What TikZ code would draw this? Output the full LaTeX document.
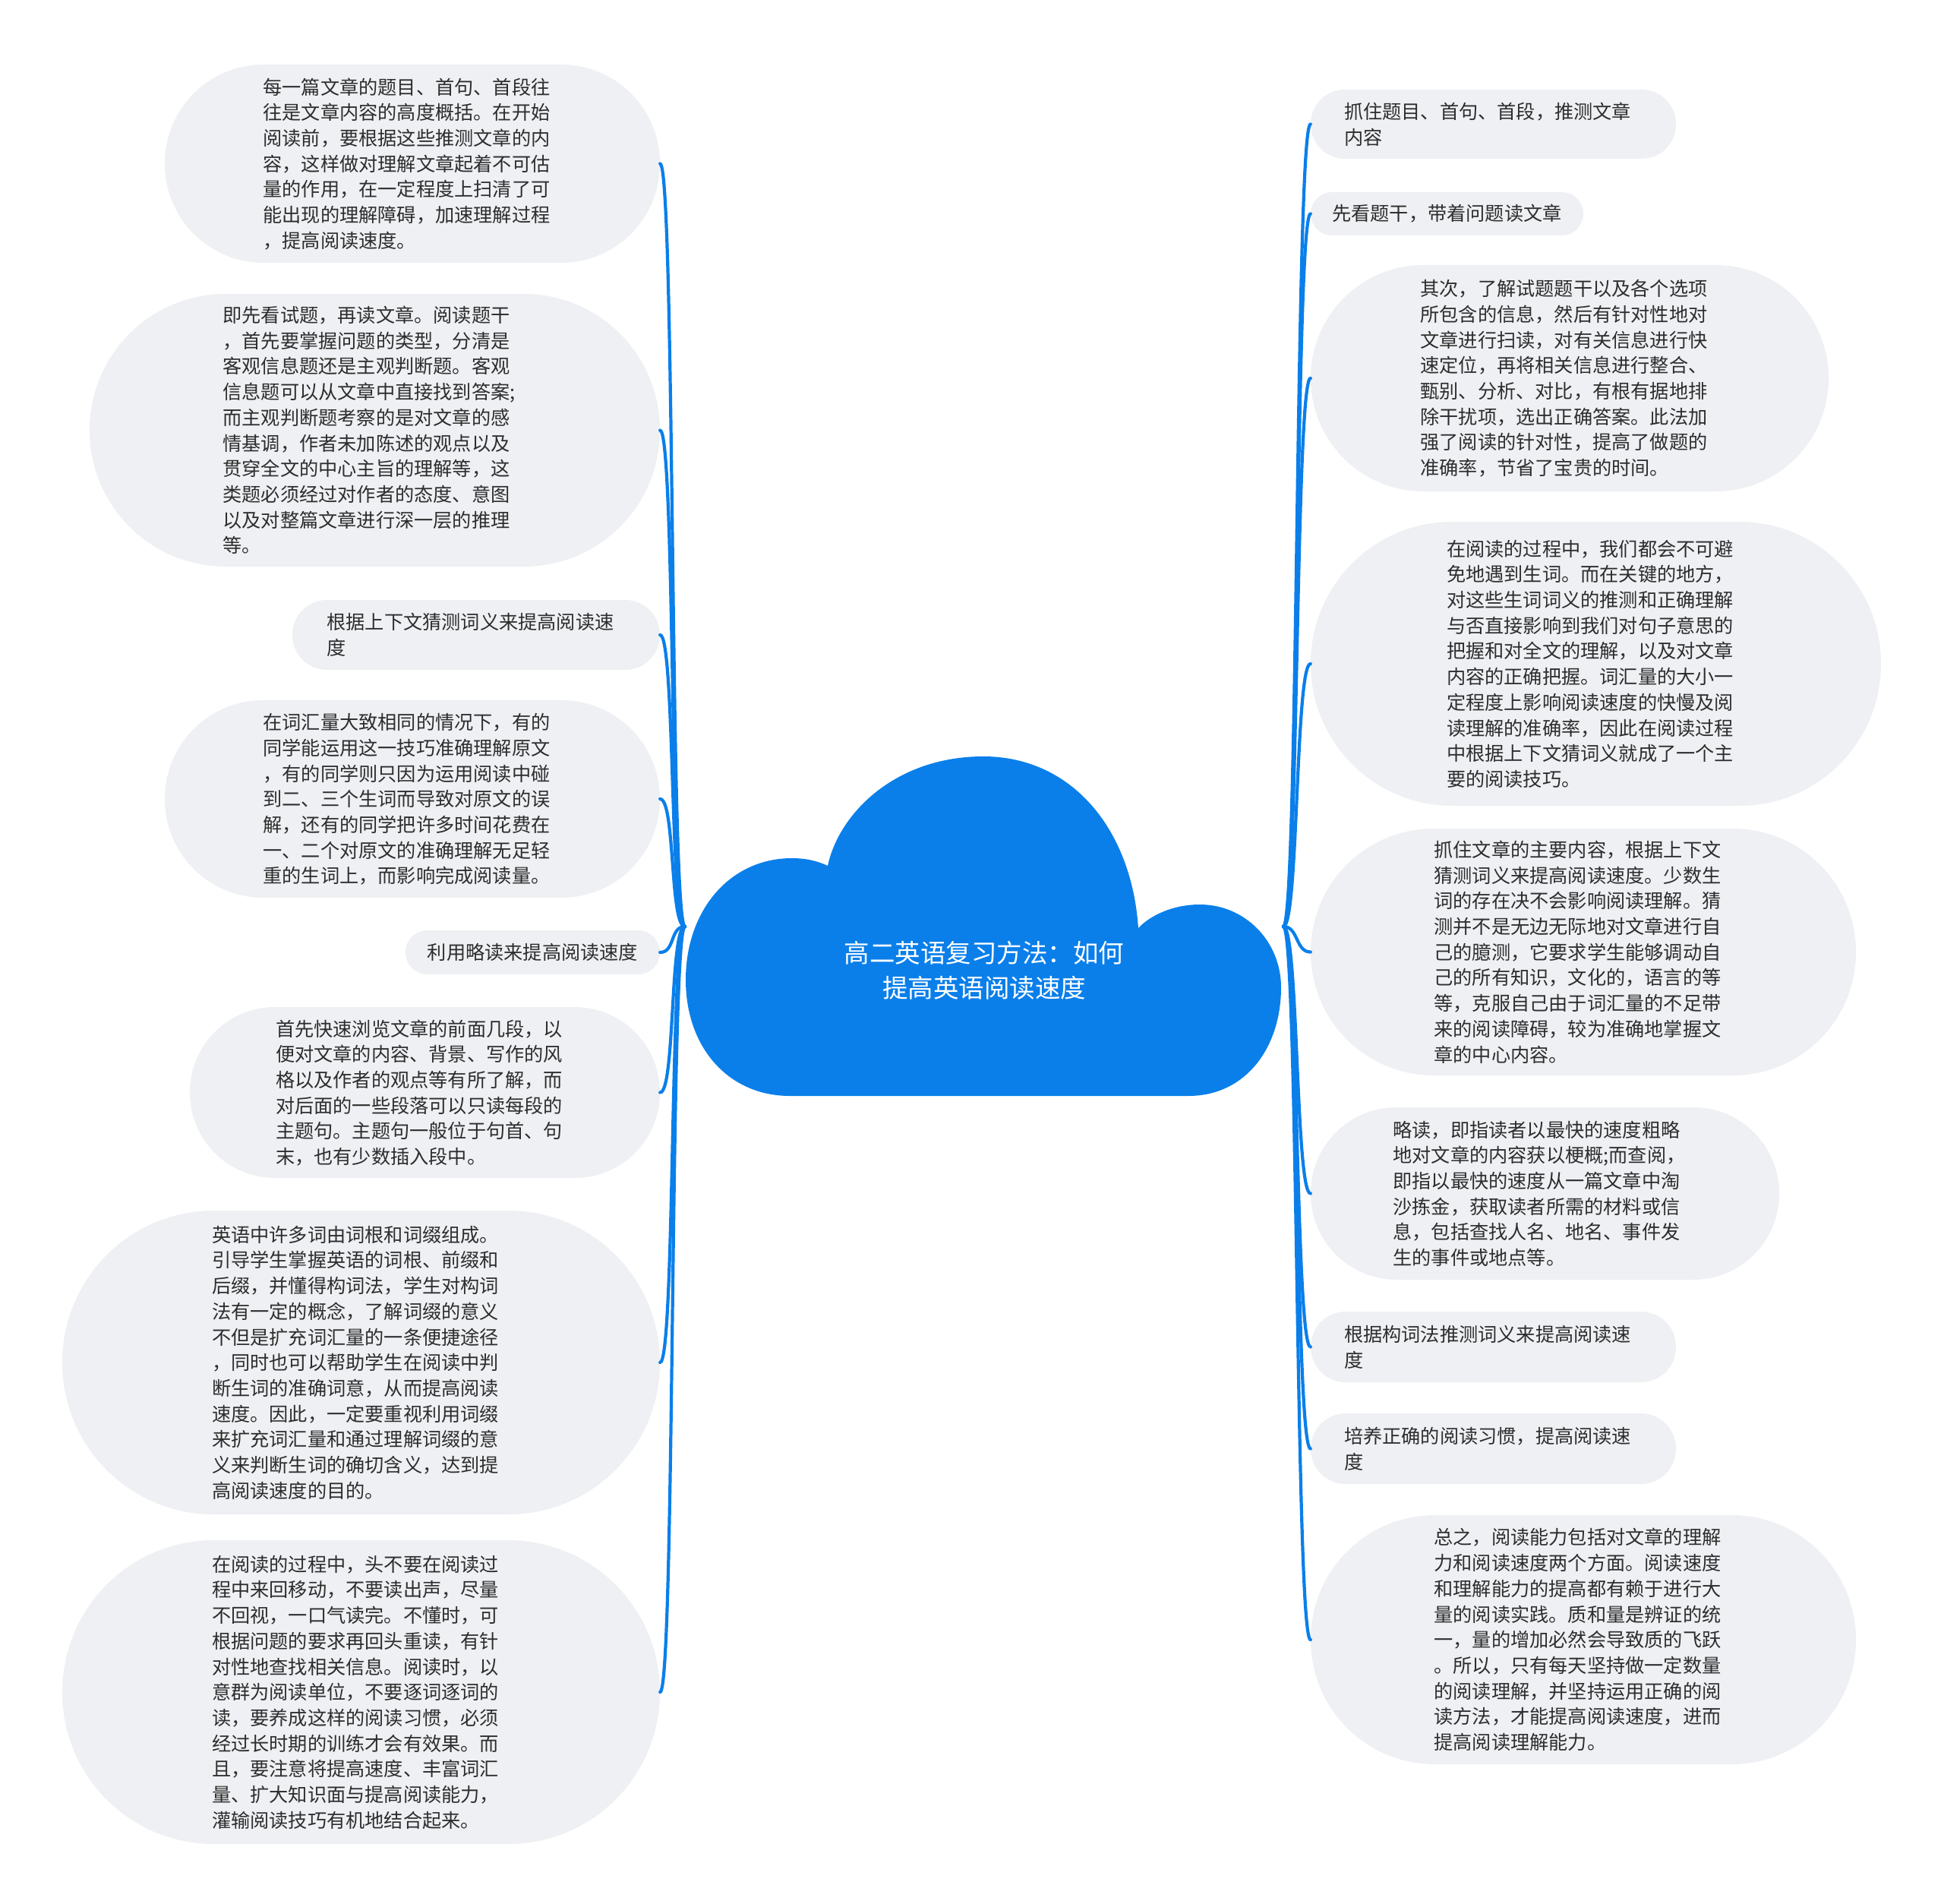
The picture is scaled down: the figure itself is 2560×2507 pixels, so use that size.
\documentclass[tikz,border=0pt]{standalone}
\usepackage{fontspec}
\newfontfamily\cjk{Noto Sans CJK SC}
\definecolor{cloudblue}{RGB}{10,127,234}
\definecolor{bubfill}{RGB}{238,240,243}
\definecolor{txt}{RGB}{45,45,45}
\newcommand\tb[1]{\begin{tabular}{@{}l@{\hspace{15pt}}}\rule{0pt}{29.6pt}#1\end{tabular}}
\tikzset{
  bub/.style={fill=bubfill, draw=none, text=txt, inner sep=0pt,
    font=\cjk\fontsize{25.2}{33.7}\selectfont},
  conn/.style={draw=cloudblue, line width=4.2pt, line cap=round},
  titletext/.style={align=center, text=white, inner sep=0pt,
    font=\cjk\fontsize{33.5}{45.7}\selectfont}
}
\begin{document}
\begin{tikzpicture}[x=1pt,y=-1pt]
\useasboundingbox (0,0) rectangle (2560,2507);

\coordinate (rootL) at (902,1220);
\coordinate (rootR) at (1690,1220);

% left nodes
\node[bub, minimum width=652pt, minimum height=261pt, rounded corners=130pt] (L1) at (543,215.5)
{\tb{每一篇文章的题目、首句、首段往\\往是文章内容的高度概括。在开始\\阅读前，要根据这些推测文章的内\\容，这样做对理解文章起着不可估\\量的作用，在一定程度上扫清了可\\能出现的理解障碍，加速理解过程\\，提高阅读速度。}};
\node[bub, minimum width=751pt, minimum height=359pt, rounded corners=179pt] (L2) at (493.5,566.5)
{\tb{即先看试题，再读文章。阅读题干\\，首先要掌握问题的类型，分清是\\客观信息题还是主观判断题。客观\\信息题可以从文章中直接找到答案;\\而主观判断题考察的是对文章的感\\情基调，作者未加陈述的观点以及\\贯穿全文的中心主旨的理解等，这\\类题必须经过对作者的态度、意图\\以及对整篇文章进行深一层的推理\\等。}};
\node[bub, minimum width=484pt, minimum height=92pt, rounded corners=45.5pt] (L3) at (627,836)
{\tb{根据上下文猜测词义来提高阅读速\\度}};
\node[bub, minimum width=652pt, minimum height=260pt, rounded corners=129.5pt] (L4) at (543,1052)
{\tb{在词汇量大致相同的情况下，有的\\同学能运用这一技巧准确理解原文\\，有的同学则只因为运用阅读中碰\\到二、三个生词而导致对原文的误\\解，还有的同学把许多时间花费在\\一、二个对原文的准确理解无足轻\\重的生词上，而影响完成阅读量。}};
\node[bub, minimum width=335pt, minimum height=58pt, rounded corners=28.5pt] (L5) at (701.5,1254)
{利用略读来提高阅读速度};
\node[bub, minimum width=619pt, minimum height=225pt, rounded corners=112pt] (L6) at (559.5,1438.5)
{\tb{首先快速浏览文章的前面几段，以\\便对文章的内容、背景、写作的风\\格以及作者的观点等有所了解，而\\对后面的一些段落可以只读每段的\\主题句。主题句一般位于句首、句\\末，也有少数插入段中。}};
\node[bub, minimum width=787pt, minimum height=400pt, rounded corners=199.5pt] (L7) at (475.5,1794)
{\tb{英语中许多词由词根和词缀组成。\\引导学生掌握英语的词根、前缀和\\后缀，并懂得构词法，学生对构词\\法有一定的概念，了解词缀的意义\\不但是扩充词汇量的一条便捷途径\\，同时也可以帮助学生在阅读中判\\断生词的准确词意，从而提高阅读\\速度。因此，一定要重视利用词缀\\来扩充词汇量和通过理解词缀的意\\义来判断生词的确切含义，达到提\\高阅读速度的目的。}};
\node[bub, minimum width=787pt, minimum height=400pt, rounded corners=199.5pt] (L8) at (475.5,2228)
{\tb{在阅读的过程中，头不要在阅读过\\程中来回移动，不要读出声，尽量\\不回视，一口气读完。不懂时，可\\根据问题的要求再回头重读，有针\\对性地查找相关信息。阅读时，以\\意群为阅读单位，不要逐词逐词的\\读，要养成这样的阅读习惯，必须\\经过长时期的训练才会有效果。而\\且，要注意将提高速度、丰富词汇\\量、扩大知识面与提高阅读能力，\\灌输阅读技巧有机地结合起来。}};

% right nodes
\node[bub, minimum width=481pt, minimum height=91pt, rounded corners=45pt] (R1) at (1966.5,163.5)
{\tb{抓住题目、首句、首段，推测文章\\内容}};
\node[bub, minimum width=359pt, minimum height=57pt, rounded corners=28pt] (R2) at (1905.5,281.5)
{先看题干，带着问题读文章};
\node[bub, minimum width=682pt, minimum height=298pt, rounded corners=148.5pt] (R3) at (2067,498)
{\tb{其次，了解试题题干以及各个选项\\所包含的信息，然后有针对性地对\\文章进行扫读，对有关信息进行快\\速定位，再将相关信息进行整合、\\甄别、分析、对比，有根有据地排\\除干扰项，选出正确答案。此法加\\强了阅读的针对性，提高了做题的\\准确率，节省了宝贵的时间。}};
\node[bub, minimum width=751pt, minimum height=374pt, rounded corners=186.5pt] (R4) at (2101.5,874)
{\tb{在阅读的过程中，我们都会不可避\\免地遇到生词。而在关键的地方，\\对这些生词词义的推测和正确理解\\与否直接影响到我们对句子意思的\\把握和对全文的理解，以及对文章\\内容的正确把握。词汇量的大小一\\定程度上影响阅读速度的快慢及阅\\读理解的准确率，因此在阅读过程\\中根据上下文猜词义就成了一个主\\要的阅读技巧。}};
\node[bub, minimum width=718pt, minimum height=325pt, rounded corners=162pt] (R5) at (2085,1253.5)
{\tb{抓住文章的主要内容，根据上下文\\猜测词义来提高阅读速度。少数生\\词的存在决不会影响阅读理解。猜\\测并不是无边无际地对文章进行自\\己的臆测，它要求学生能够调动自\\己的所有知识，文化的，语言的等\\等，克服自己由于词汇量的不足带\\来的阅读障碍，较为准确地掌握文\\章的中心内容。}};
\node[bub, minimum width=617pt, minimum height=227pt, rounded corners=113pt] (R6) at (2034.5,1571.5)
{\tb{略读，即指读者以最快的速度粗略\\地对文章的内容获以梗概;而查阅，\\即指以最快的速度从一篇文章中淘\\沙拣金，获取读者所需的材料或信\\息，包括查找人名、地名、事件发\\生的事件或地点等。}};
\node[bub, minimum width=481pt, minimum height=93pt, rounded corners=46pt] (R7) at (1966.5,1773.5)
{\tb{根据构词法推测词义来提高阅读速\\度}};
\node[bub, minimum width=481pt, minimum height=93pt, rounded corners=46pt] (R8) at (1966.5,1907.5)
{\tb{培养正确的阅读习惯，提高阅读速\\度}};
\node[bub, minimum width=718pt, minimum height=328pt, rounded corners=163.5pt] (R9) at (2085,2159)
{\tb{总之，阅读能力包括对文章的理解\\力和阅读速度两个方面。阅读速度\\和理解能力的提高都有赖于进行大\\量的阅读实践。质和量是辨证的统\\一，量的增加必然会导致质的飞跃\\。所以，只有每天坚持做一定数量\\的阅读理解，并坚持运用正确的阅\\读方法，才能提高阅读速度，进而\\提高阅读理解能力。}};

% connectors
\foreach \n in {L1,L2,L3,L4,L5,L6,L7,L8}
  \draw[conn] (rootL) .. controls +(-20,0) and +(20,0) .. (\n.east);
\foreach \n in {R1,R2,R3,R4,R5,R6,R7,R8,R9}
  \draw[conn] (rootR) .. controls +(20,0) and +(-20,0) .. (\n.west);

% cloud
\fill[cloudblue] (1040,1443) -- (1565,1443)
  .. controls (1640,1443) and (1687,1380) .. (1687,1300)
  .. controls (1687,1240) and (1640,1191) .. (1580,1191)
  .. controls (1545,1191) and (1515,1205) .. (1499,1222)
  .. controls (1490,1090) and (1410,996) .. (1295,996)
  .. controls (1180,996) and (1105,1070) .. (1090,1140)
  .. controls (1075,1133) and (1060,1130) .. (1043,1130)
  .. controls (960,1130) and (903,1200) .. (903,1290)
  .. controls (903,1380) and (960,1443) .. (1040,1443) -- cycle;
\node[titletext] (T) at (1296,1278) {高二英语复习方法：如何\\提高英语阅读速度};
\end{tikzpicture}
\end{document}
